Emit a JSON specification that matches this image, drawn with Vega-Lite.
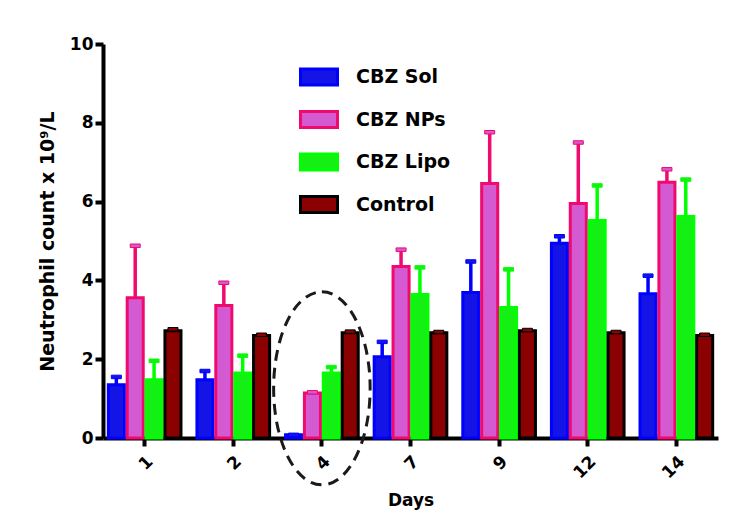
{
  "$schema": "https://vega.github.io/schema/vega-lite/v6.json",
  "autosize": {"type": "none"},
  "padding": {"left": 103, "top": 44, "right": 20, "bottom": 79},
  "width": 615,
  "height": 394,
  "background": "white",
  "config": {
    "view": {"stroke": null},
    "font": "DejaVu Sans",
    "axis": {
      "domainColor": "black", "domainWidth": 4, "tickColor": "black", "tickWidth": 4, "tickSize": 8,
      "labelFont": "DejaVu Sans", "labelFontWeight": "bold", "labelFontSize": 17, "labelColor": "black",
      "titleFont": "DejaVu Sans", "titleFontWeight": "bold", "titleFontSize": 17, "titleColor": "black",
      "grid": false
    }
  },
  "datasets": {
    "bars": [
      {"Day": "1", "Group": "CBZ Sol", "value": 1.35, "upper": 1.55},
      {"Day": "1", "Group": "CBZ NPs", "value": 3.56, "upper": 4.88},
      {"Day": "1", "Group": "CBZ Lipo", "value": 1.48, "upper": 1.96},
      {"Day": "1", "Group": "Control", "value": 2.72, "upper": 2.76},
      {"Day": "2", "Group": "CBZ Sol", "value": 1.48, "upper": 1.70},
      {"Day": "2", "Group": "CBZ NPs", "value": 3.36, "upper": 3.94},
      {"Day": "2", "Group": "CBZ Lipo", "value": 1.65, "upper": 2.09},
      {"Day": "2", "Group": "Control", "value": 2.60, "upper": 2.62},
      {"Day": "4", "Group": "CBZ Sol", "value": 0.08, "upper": 0.08},
      {"Day": "4", "Group": "CBZ NPs", "value": 1.14, "upper": 1.16},
      {"Day": "4", "Group": "CBZ Lipo", "value": 1.65, "upper": 1.80},
      {"Day": "4", "Group": "Control", "value": 2.67, "upper": 2.70},
      {"Day": "7", "Group": "CBZ Sol", "value": 2.06, "upper": 2.44},
      {"Day": "7", "Group": "CBZ NPs", "value": 4.35, "upper": 4.78},
      {"Day": "7", "Group": "CBZ Lipo", "value": 3.64, "upper": 4.33},
      {"Day": "7", "Group": "Control", "value": 2.67, "upper": 2.69},
      {"Day": "9", "Group": "CBZ Sol", "value": 3.69, "upper": 4.48},
      {"Day": "9", "Group": "CBZ NPs", "value": 6.46, "upper": 7.76},
      {"Day": "9", "Group": "CBZ Lipo", "value": 3.31, "upper": 4.28},
      {"Day": "9", "Group": "Control", "value": 2.72, "upper": 2.74},
      {"Day": "12", "Group": "CBZ Sol", "value": 4.94, "upper": 5.12},
      {"Day": "12", "Group": "CBZ NPs", "value": 5.95, "upper": 7.50},
      {"Day": "12", "Group": "CBZ Lipo", "value": 5.52, "upper": 6.41},
      {"Day": "12", "Group": "Control", "value": 2.67, "upper": 2.69},
      {"Day": "14", "Group": "CBZ Sol", "value": 3.66, "upper": 4.12},
      {"Day": "14", "Group": "CBZ NPs", "value": 6.49, "upper": 6.82},
      {"Day": "14", "Group": "CBZ Lipo", "value": 5.62, "upper": 6.56},
      {"Day": "14", "Group": "Control", "value": 2.60, "upper": 2.62}
    ],
    "highlight": [{"Day": "4", "center": 1.26}]
  },
  "data": {"name": "bars"},
  "encoding": {
    "x": {
      "field": "Day", "type": "nominal",
      "scale": {"domain": ["1", "2", "4", "7", "9", "12", "14"], "paddingInner": 0.18, "paddingOuter": 0.06},
      "axis": {"title": "Days", "labelAngle": -45, "labelPadding": 7, "titlePadding": 11}
    }
  },
  "layer": [
    {
      "mark": {"type": "bar", "strokeWidth": 3},
      "encoding": {
        "xOffset": {"field": "Group", "type": "nominal", "scale": {"domain": ["CBZ Sol", "CBZ NPs", "CBZ Lipo", "Control"], "paddingInner": 0.15}},
        "y": {
          "field": "value", "type": "quantitative",
          "scale": {"domain": [0, 10], "nice": false},
          "axis": {"title": "Neutrophil count x 10⁹/L", "values": [0, 2, 4, 6, 8, 10], "labelPadding": 2, "titlePadding": 12, "titleFontSize": 19}
        },
        "fill": {
          "field": "Group", "type": "nominal",
          "scale": {"domain": ["CBZ Sol", "CBZ NPs", "CBZ Lipo", "Control"], "range": ["#1414e6", "#d45ad2", "#14f014", "#8b0000"]},
          "legend": {
            "title": null, "orient": "none", "legendX": 196, "legendY": 13,
            "symbolType": "M-1,-0.43H1V0.43H-1Z", "symbolSize": 1369, "symbolStrokeWidth": 3,
            "labelFont": "DejaVu Sans", "labelFontWeight": "bold", "labelFontSize": 19, "labelColor": "black",
            "labelOffset": 17, "rowPadding": 8.5, "padding": 0
          }
        },
        "stroke": {
          "field": "Group", "type": "nominal",
          "scale": {"domain": ["CBZ Sol", "CBZ NPs", "CBZ Lipo", "Control"], "range": ["#0000ff", "#f00a6e", "#00ff00", "#000000"]},
          "legend": {
            "title": null, "orient": "none", "legendX": 196, "legendY": 13,
            "symbolType": "M-1,-0.43H1V0.43H-1Z", "symbolSize": 1369, "symbolStrokeWidth": 3,
            "labelFont": "DejaVu Sans", "labelFontWeight": "bold", "labelFontSize": 19, "labelColor": "black",
            "labelOffset": 17, "rowPadding": 8.5, "padding": 0
          }
        }
      }
    },
    {
      "mark": {"type": "rule", "strokeWidth": 3.5},
      "encoding": {
        "xOffset": {"field": "Group", "type": "nominal", "scale": {"domain": ["CBZ Sol", "CBZ NPs", "CBZ Lipo", "Control"], "paddingInner": 0.15}},
        "y": {"field": "value", "type": "quantitative"},
        "y2": {"field": "upper"},
        "stroke": {"field": "Group", "type": "nominal"}
      }
    },
    {
      "mark": {"type": "tick", "size": 10, "thickness": 3.5, "opacity": 1},
      "encoding": {
        "xOffset": {"field": "Group", "type": "nominal", "scale": {"domain": ["CBZ Sol", "CBZ NPs", "CBZ Lipo", "Control"], "paddingInner": 0.15}},
        "y": {"field": "upper", "type": "quantitative"},
        "stroke": {"field": "Group", "type": "nominal"},
        "fill": {"field": "Group", "type": "nominal"}
      }
    },
    {
      "data": {"name": "highlight"},
      "mark": {"type": "point", "shape": "M0,-1A0.5,1 0 1,1 0,1A0.5,1 0 1,1 0,-1Z", "size": 37249, "filled": false, "stroke": "#1a1a1a", "strokeWidth": 3, "strokeDash": [11, 7], "opacity": 1},
      "encoding": {
        "y": {"field": "center", "type": "quantitative"}
      }
    }
  ]
}
